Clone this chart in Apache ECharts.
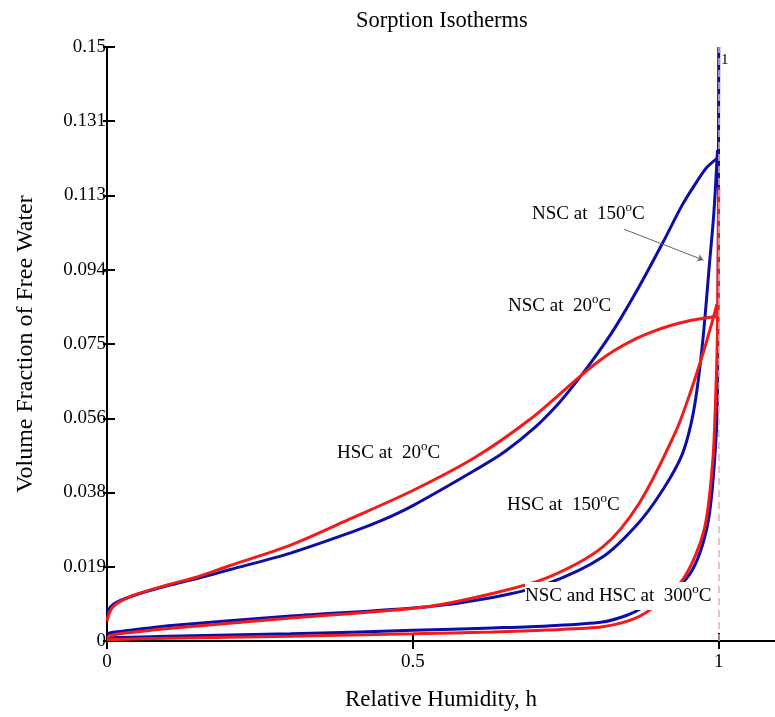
<!DOCTYPE html>
<html>
<head>
<meta charset="utf-8">
<script src="https://cdn.jsdelivr.net/npm/echarts@6/dist/echarts.min.js"></script>
<style>
  html, body { margin: 0; padding: 0; background: #fff; }
  #chart { width: 775px; height: 717px; }
</style>
</head>
<body>
<div id="chart"></div>
<script>
// tick labels
const xTicks = [0, 0.5, 1];
const xTickLabels = ['0', '0.5', '1'];
const yTickLabels = ['0', '0.019', '0.038', '0.056', '0.075', '0.094', '0.113', '0.131', '0.15'];

// NSC / HSC at 20 C
const hNsc20 = [0, 0.005, 0.016, 0.05, 0.1, 0.15, 0.2, 0.3, 0.4, 0.45, 0.5, 0.6, 0.65, 0.7, 0.74, 0.77, 0.8, 0.83, 0.87, 0.91, 0.94, 0.96, 0.98, 1.0];
const vNsc20 = [0.0068, 0.0085, 0.0098, 0.0118, 0.0140, 0.0159, 0.0180, 0.0222, 0.0275, 0.0305, 0.0342, 0.0430, 0.0478, 0.0540, 0.0603, 0.0660, 0.0722, 0.0790, 0.0895, 0.1010, 0.1100, 0.1150, 0.1195, 0.1222];
const hHsc20 = [0, 0.005, 0.016, 0.05, 0.1, 0.15, 0.2, 0.3, 0.4, 0.5, 0.6, 0.69, 0.77, 0.8, 0.83, 0.86, 0.89, 0.92, 0.95, 0.975, 1.0];
const vHsc20 = [0.0050, 0.0075, 0.0095, 0.0119, 0.0142, 0.0163, 0.0190, 0.0242, 0.0310, 0.0380, 0.0462, 0.0558, 0.0664, 0.0702, 0.0734, 0.0760, 0.0780, 0.0796, 0.0808, 0.0815, 0.0820];

// NSC / HSC at 150 C
const hNsc150 = [0, 0.01, 0.03, 0.11, 0.3, 0.52, 0.63, 0.72, 0.81, 0.87, 0.91, 0.94, 0.955, 0.965, 0.975, 0.985, 0.992, 0.998];
const vNsc150 = [0.0018, 0.0022, 0.0026, 0.0040, 0.0063, 0.0086, 0.0110, 0.0145, 0.0212, 0.0300, 0.0385, 0.0470, 0.0550, 0.0640, 0.0775, 0.0955, 0.1080, 0.1240];
const hHsc150 = [0, 0.01, 0.03, 0.11, 0.3, 0.52, 0.63, 0.72, 0.81, 0.87, 0.93, 0.955, 0.976, 0.99, 0.997];
const vHsc150 = [0.0008, 0.0015, 0.0020, 0.0033, 0.0058, 0.0086, 0.0120, 0.0160, 0.0237, 0.0348, 0.0530, 0.0634, 0.0735, 0.0810, 0.0850];

// NSC / HSC at 300 C
const hNsc300 = [0, 0.1, 0.3, 0.5, 0.63, 0.72, 0.81, 0.85, 0.877, 0.948, 0.98, 0.993, 0.998, 1.0];
const vNsc300 = [0.0008, 0.0012, 0.0018, 0.0027, 0.0033, 0.0038, 0.0048, 0.0065, 0.0086, 0.0159, 0.0280, 0.0450, 0.0620, 0.1500];
const hHsc300 = [0, 0.1, 0.3, 0.5, 0.63, 0.72, 0.81, 0.86, 0.894, 0.943, 0.976, 0.99, 0.995, 0.998, 1.0];
const vHsc300 = [0.0003, 0.0007, 0.0012, 0.0018, 0.0023, 0.0028, 0.0036, 0.0055, 0.0086, 0.0159, 0.0280, 0.0450, 0.0616, 0.0785, 0.1146];

const BLUE = '#0d0da8';
const RED = '#f41a1a';
const FONT = 'Liberation Serif';
const Y_STEP = 0.01875;
const X_MAX = 1.092;

function zip(h, v) {
  return h.map((x, i) => [x, v[i]]);
}

function curve(name, h, v, color) {
  return {
    name: name,
    type: 'line',
    data: zip(h, v),
    showSymbol: false,
    symbol: 'none',
    smooth: 0.3,
    lineStyle: { color: color, width: 3 },
    z: 2
  };
}

const chart = echarts.init(document.getElementById('chart'));

const sup = { fontSize: 13, fontFamily: FONT, verticalAlign: 'top', lineHeight: 13 };
function note(text, x, y, extra) {
  return {
    type: 'text',
    z: 50,
    style: Object.assign({
      text: text,
      x: x,
      y: y,
      fill: '#000',
      font: '19px ' + FONT,
      lineHeight: 26,
      verticalAlign: 'middle',
      rich: { s: sup }
    }, extra || {})
  };
}

const axisLine = { lineStyle: { color: '#000', width: 2 } };
const axisTick = { inside: true, length: 8, lineStyle: { color: '#000', width: 2 } };
const xAxisTick = Object.assign({ customValues: xTicks }, axisTick);

chart.setOption({
  animation: false,
  backgroundColor: '#fff',
  title: {
    text: 'Sorption Isotherms',
    left: 351,
    top: 5,
    textStyle: { fontFamily: FONT, fontSize: 22.5, fontWeight: 'normal', color: '#000' }
  },
  grid: { left: 107, right: 0, top: 47, bottom: 76, containLabel: false },
  xAxis: [
    {
      type: 'value', min: 0, max: X_MAX, interval: 0.5, position: 'bottom',
      name: 'Relative Humidity, h', nameLocation: 'middle', nameGap: 47,
      nameTextStyle: { fontFamily: FONT, fontSize: 23, color: '#000' },
      axisLine: axisLine,
      axisTick: xAxisTick,
      axisLabel: {
        customValues: xTicks,
        margin: 12, fontFamily: FONT, fontSize: 19, color: '#000',
        formatter: v => xTickLabels[xTicks.findIndex(t => Math.abs(t - v) < 1e-9)] || ''
      },
      splitLine: { show: false }
    },
    {
      type: 'value', min: 0, max: X_MAX, interval: 0.5, position: 'top',
      axisLine: axisLine,
      axisTick: xAxisTick,
      axisLabel: { show: false },
      splitLine: { show: false }
    }
  ],
  yAxis: [
    {
      type: 'value', min: 0, max: 0.15, interval: Y_STEP, position: 'left',
      name: 'Volume Fraction of Free Water', nameLocation: 'middle', nameGap: 69,
      nameTextStyle: { fontFamily: FONT, fontSize: 24, color: '#000' },
      axisLine: axisLine,
      axisTick: axisTick,
      axisLabel: {
        margin: 1, fontFamily: FONT, fontSize: 19, color: '#000',
        formatter: v => yTickLabels[Math.round(v / Y_STEP)] || ''
      },
      splitLine: { show: false }
    },
    {
      type: 'value', min: 0, max: 0.15, interval: Y_STEP, position: 'right', offset: -1,
      axisLine: { show: true, lineStyle: { color: 'rgba(0,0,0,0)', width: 1 } },
      axisTick: { show: true, inside: true, length: 5, lineStyle: { color: '#000', width: 2 } },
      axisLabel: { show: false },
      splitLine: { show: false }
    }
  ],
  series: [
    curve('NSC 20', hNsc20, vNsc20, BLUE),
    curve('NSC 150', hNsc150, vNsc150, BLUE),
    curve('NSC 300', hNsc300, vNsc300, BLUE),
    curve('HSC 20', hHsc20, vHsc20, RED),
    curve('HSC 150', hHsc150, vHsc150, RED),
    curve('HSC 300', hHsc300, vHsc300, RED),
    {
      // h = 1 guide line and arrow to the NSC 150 curve
      type: 'line',
      data: [],
      z: 60,
      markLine: {
        silent: true,
        animation: false,
        symbol: ['none', 'none'],
        label: { show: false },
        data: [
          {
            xAxis: 1,
            lineStyle: { color: '#e0b4b4', type: [7, 5], width: 1.5 }
          },
          [
            { coord: [0.845, 0.104], symbol: 'none', lineStyle: { color: '#666', type: 'solid', width: 1 } },
            { coord: [0.975, 0.0962], symbol: 'arrow', symbolSize: 6 }
          ]
        ]
      }
    }
  ],
  graphic: [
    note('NSC at  150{s|o}C', 532, 214),
    note('NSC at  20{s|o}C', 508, 306),
    note('HSC at  20{s|o}C', 337, 453),
    note('HSC at  150{s|o}C', 507, 505),
    note('NSC and HSC at  300{s|o}C', 525, 596, { backgroundColor: '#fff', padding: [1, 0, 1, 0] }),
    { type: 'text', z: 50, style: { text: '1', x: 721, y: 60, fill: '#000', font: '15px ' + FONT, verticalAlign: 'middle' } }
  ]
});
</script>
</body>
</html>
